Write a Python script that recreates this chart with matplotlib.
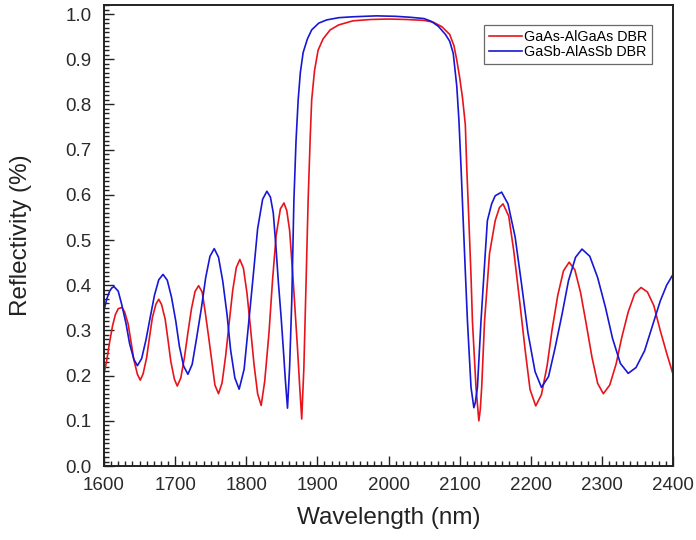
import matplotlib
matplotlib.use("Agg")
import matplotlib.pyplot as plt
from matplotlib.ticker import MultipleLocator, FormatStrFormatter

plt.rcParams['font.family'] = ['Liberation Sans', 'DejaVu Sans']

# GaAs-AlGaAs DBR (red)
gaas_wl = [1600, 1604, 1608, 1612, 1616, 1620, 1625,
           1629, 1634, 1638, 1642, 1647, 1651,
           1655, 1660, 1664, 1668, 1673, 1677,
           1681, 1686, 1690, 1694, 1699, 1703,
           1708, 1713, 1718, 1723, 1728, 1733,
           1738, 1742, 1747, 1752, 1756, 1761,
           1766, 1771, 1776, 1781, 1786, 1791,
           1796, 1801, 1806, 1811, 1816, 1821,
           1826, 1832, 1837, 1842, 1848, 1853,
           1857, 1861, 1866, 1872, 1875, 1878,
           1881, 1884, 1887, 1890, 1892, 1896, 1901, 1908, 1918, 1930,
           1950, 1975, 2000, 2025, 2050, 2063, 2075, 2086, 2092, 2096,
           2100, 2104, 2108, 2110, 2113, 2116, 2118, 2123, 2127,
           2129, 2131, 2135, 2142, 2150, 2156, 2161,
           2169, 2176, 2184, 2192, 2199, 2207,
           2215, 2223, 2230, 2238, 2246, 2254,
           2262, 2270, 2278, 2286, 2294, 2302,
           2311, 2320, 2328, 2337, 2346, 2355,
           2364, 2373, 2382, 2391, 2400]
gaas_r = [0.203, 0.235, 0.275, 0.310, 0.335, 0.348, 0.351,
          0.341, 0.314, 0.275, 0.235, 0.203, 0.190,
          0.204, 0.240, 0.285, 0.328, 0.358, 0.369,
          0.357, 0.325, 0.279, 0.231, 0.192, 0.177,
          0.195, 0.239, 0.295, 0.348, 0.386, 0.399,
          0.385, 0.344, 0.287, 0.227, 0.179, 0.160,
          0.184, 0.243, 0.317, 0.389, 0.439, 0.457,
          0.438, 0.383, 0.305, 0.224, 0.160, 0.134,
          0.188, 0.295, 0.412, 0.510, 0.569, 0.582,
          0.565, 0.521, 0.410, 0.262, 0.180, 0.104,
          0.217, 0.400, 0.588, 0.730, 0.810, 0.875, 0.920, 0.945, 0.965, 0.976,
          0.985, 0.988, 0.989, 0.988, 0.986, 0.982, 0.972, 0.955, 0.930, 0.898,
          0.860, 0.815, 0.755, 0.660, 0.543, 0.420, 0.320, 0.174, 0.100,
          0.125, 0.174, 0.320, 0.470, 0.543, 0.572, 0.580,
          0.553, 0.477, 0.370, 0.258, 0.169, 0.133,
          0.158, 0.222, 0.302, 0.378, 0.432, 0.451,
          0.434, 0.384, 0.314, 0.241, 0.183, 0.160,
          0.179, 0.226, 0.285, 0.341, 0.381, 0.395,
          0.385, 0.355, 0.300, 0.250, 0.203]

# GaSb-AlAsSb DBR (blue)
gasb_wl = [1600, 1604, 1608, 1611, 1614,
           1620, 1625, 1631, 1636, 1642, 1647,
           1653, 1659, 1665, 1671, 1677, 1683,
           1689, 1695, 1701, 1706, 1712, 1718,
           1724, 1730, 1737, 1743, 1749, 1755,
           1761, 1767, 1773, 1778, 1784, 1790,
           1797, 1803, 1810, 1816, 1823, 1829,
           1834, 1838, 1842, 1845, 1849, 1852, 1855, 1858,
           1861, 1864, 1867, 1870, 1873, 1876, 1880, 1886, 1892, 1902, 1913,
           1930, 1950, 1983, 2010, 2030, 2050, 2060, 2070, 2080, 2086,
           2091, 2096, 2099, 2102, 2105, 2108, 2111, 2116, 2120,
           2122, 2125, 2130, 2136, 2139, 2145, 2150, 2159,
           2168, 2178, 2187, 2196, 2206, 2215,
           2225, 2234, 2244, 2253, 2263, 2272,
           2283, 2294, 2305, 2315, 2326, 2337,
           2348, 2360, 2371, 2382, 2391, 2400]
gasb_r = [0.345, 0.370, 0.387, 0.394, 0.397,
          0.387, 0.357, 0.315, 0.271, 0.236, 0.222,
          0.238, 0.279, 0.329, 0.378, 0.412, 0.424,
          0.411, 0.373, 0.320, 0.265, 0.221, 0.203,
          0.225, 0.281, 0.350, 0.417, 0.464, 0.481,
          0.462, 0.409, 0.335, 0.257, 0.195, 0.170,
          0.214, 0.310, 0.424, 0.525, 0.590, 0.608,
          0.595, 0.560, 0.480, 0.410, 0.330, 0.262, 0.190, 0.128,
          0.220, 0.366, 0.588, 0.720, 0.810, 0.870, 0.915, 0.945, 0.965, 0.980, 0.987,
          0.992, 0.994, 0.996, 0.995, 0.993, 0.990, 0.984, 0.973, 0.955, 0.940,
          0.913, 0.840, 0.765, 0.660, 0.543, 0.430, 0.320, 0.174, 0.129,
          0.140, 0.174, 0.320, 0.470, 0.543, 0.580, 0.598, 0.606,
          0.580, 0.507, 0.403, 0.295, 0.209, 0.174,
          0.198, 0.260, 0.336, 0.410, 0.462, 0.480,
          0.464, 0.417, 0.351, 0.282, 0.227, 0.205,
          0.218, 0.255, 0.310, 0.365, 0.400, 0.424]

fig = plt.figure(figsize=(6.96, 5.40), dpi=100)
ax = fig.add_axes([0.1494, 0.137, 0.8176, 0.8537])

ax.plot(gaas_wl, gaas_r, color='#e8141c', lw=1.2, label='GaAs-AlGaAs DBR')
ax.plot(gasb_wl, gasb_r, color='#1717d4', lw=1.2, label='GaSb-AlAsSb DBR')

ax.set_xlim(1600, 2400)
ax.set_ylim(0, 1.02)
ax.xaxis.set_major_locator(MultipleLocator(100))
ax.xaxis.set_minor_locator(MultipleLocator(10))
ax.yaxis.set_major_locator(MultipleLocator(0.1))
ax.yaxis.set_minor_locator(MultipleLocator(0.01))
ax.yaxis.set_major_formatter(FormatStrFormatter('%.1f'))
ax.tick_params(which='both', direction='in', width=1, colors='#222222',
               labelsize=13.5, labelcolor='#2a2a2a')
ax.tick_params(which='major', length=7)
ax.tick_params(which='minor', length=3.5)
ax.tick_params(axis='x', which='major', pad=8)
ax.tick_params(axis='y', which='major', pad=9)
for s in ax.spines.values():
    s.set_linewidth(1.4)
    s.set_color('#222222')

ax.set_xlabel('Wavelength (nm)', fontsize=17.5, color='#222222', labelpad=9)
ax.set_ylabel('Reflectivity (%)', fontsize=17.5, color='#222222', labelpad=24)

leg = ax.legend(loc='upper right', bbox_to_anchor=(0.963, 0.957), fontsize=10.3,
                frameon=True, fancybox=False, handlelength=2.3, handletextpad=0.15,
                borderpad=0.35, labelspacing=0.05, borderaxespad=0)
leg.get_frame().set_edgecolor('#444444')
leg.get_frame().set_linewidth(0.9)

fig.savefig('out.png', dpi=100)
